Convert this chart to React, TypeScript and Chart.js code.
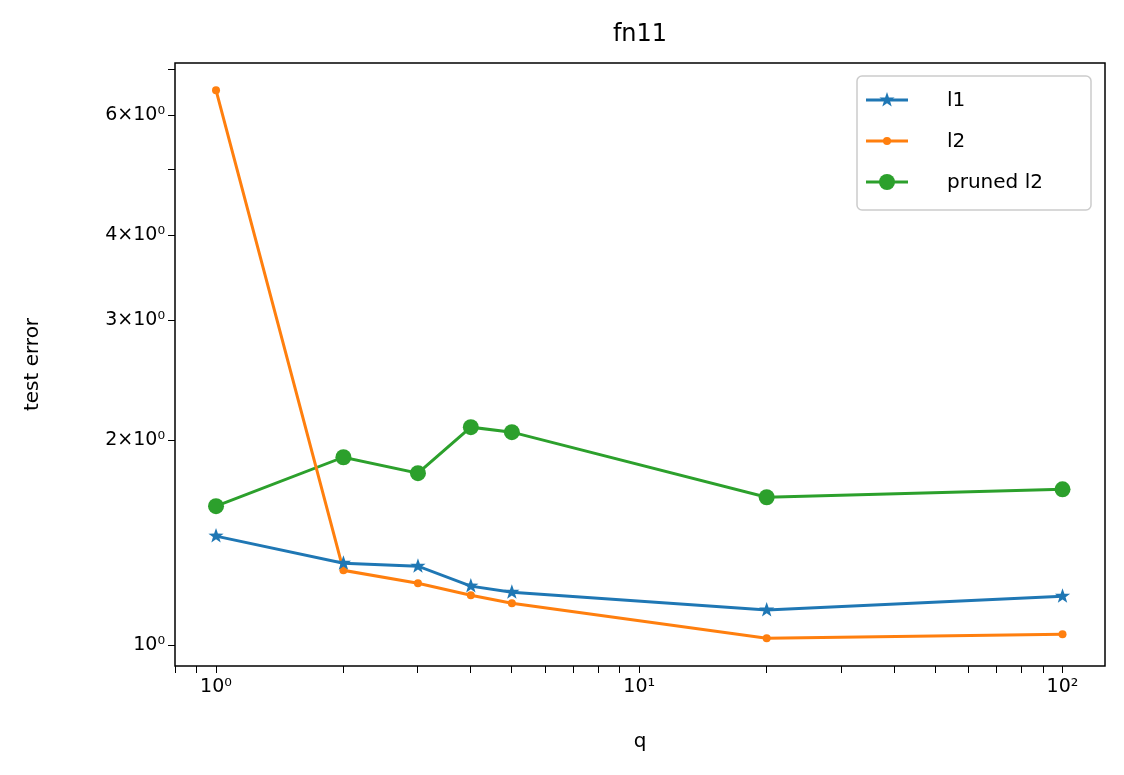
import { useEffect, useRef } from "react";
import { Chart, registerables } from "chart.js";
Chart.register(...registerables);

const qValues = [1, 2, 3, 4, 5, 20, 100];
const l1 = [1.446, 1.319, 1.306, 1.221, 1.196, 1.126, 1.18];
const l2 = [6.53, 1.288, 1.233, 1.184, 1.152, 1.024, 1.038];
const prunedL2 = [1.6, 1.888, 1.789, 2.09, 2.055, 1.649, 1.694];
const xLabels: Record<number, string> = { 1: "10⁰", 10: "10¹", 100: "10²" };
const yLabels: Record<number, string> = { 1: "10⁰", 2: "2×10⁰", 3: "3×10⁰", 4: "4×10⁰", 6: "6×10⁰" };
const xTicks = [0.8, 0.9, 1, 2, 3, 4, 5, 6, 7, 8, 9, 10, 20, 30, 40, 50, 60, 70, 80, 90, 100];
const yTicks = [1, 2, 3, 4, 5, 6, 7];

const FONT = "'DejaVu Sans', sans-serif";
const series = [
  { label: "l1", data: l1, color: "#1f77b4", style: "star", r: 7 },
  { label: "l2", data: l2, color: "#ff7f0e", style: "circle", r: 4 },
  { label: "pruned l2", data: prunedL2, color: "#2ca02c", style: "circle", r: 8 },
];

function drawStar(ctx: CanvasRenderingContext2D, x: number, y: number, r: number) {
  ctx.beginPath();
  for (let k = 0; k < 10; k++) {
    const ang = -Math.PI / 2 + (k * Math.PI) / 5;
    const rr = k % 2 === 0 ? r : r * 0.4;
    ctx.lineTo(x + rr * Math.cos(ang), y + rr * Math.sin(ang));
  }
  ctx.closePath();
  ctx.fill();
}

const deco = {
  id: "deco",
  afterDraw(chart: any) {
    const { ctx, chartArea: a } = chart;
    ctx.save();
    ctx.strokeStyle = "#000";
    ctx.lineWidth = 1.5;
    ctx.strokeRect(a.left, a.top, a.right - a.left, a.bottom - a.top);
    ctx.fillStyle = "#000";
    ctx.textAlign = "center";
    ctx.textBaseline = "middle";
    ctx.font = `24px ${FONT}`;
    ctx.fillText("fn11", (a.left + a.right) / 2, 35);
    ctx.font = `20px ${FONT}`;
    ctx.fillText("q", (a.left + a.right) / 2, 742);
    ctx.translate(33, (a.top + a.bottom) / 2);
    ctx.rotate(-Math.PI / 2);
    ctx.fillText("test error", 0, 0);
    ctx.restore();
    // legend
    ctx.save();
    const bx = 857, by = 76, bw = 234, bh = 134;
    ctx.fillStyle = "rgba(255,255,255,0.8)";
    ctx.strokeStyle = "#ccc";
    ctx.lineWidth = 1.5;
    ctx.beginPath();
    ctx.roundRect(bx, by, bw, bh, 5);
    ctx.fill();
    ctx.stroke();
    ctx.font = `20px ${FONT}`;
    ctx.textBaseline = "middle";
    series.forEach((s, i) => {
      const y = by + 24 + i * 41;
      ctx.strokeStyle = s.color;
      ctx.lineWidth = 3;
      ctx.beginPath();
      ctx.moveTo(bx + 9, y);
      ctx.lineTo(bx + 51, y);
      ctx.stroke();
      ctx.fillStyle = s.color;
      if (s.style === "star") {
        drawStar(ctx, bx + 30, y, 8);
      } else {
        ctx.beginPath();
        ctx.arc(bx + 30, y, s.r, 0, Math.PI * 2);
        ctx.fill();
      }
      ctx.fillStyle = "#000";
      ctx.textAlign = "left";
      ctx.fillText(s.label, bx + 90, y + 1);
    });
    ctx.restore();
  },
};

const starPlugin = {
  id: "stars",
  afterDatasetsDraw(chart: any) {
    const meta = chart.getDatasetMeta(0);
    const ctx = chart.ctx;
    ctx.save();
    ctx.fillStyle = "#1f77b4";
    meta.data.forEach((p: any) => drawStar(ctx, p.x, p.y, 8));
    ctx.restore();
  },
};

export default function App() {
  const ref = useRef<HTMLCanvasElement | null>(null);
  useEffect(() => {
    document.body.style.margin = "0";
    if (!ref.current) return;
    const chart = new Chart(ref.current, {
      type: "line",
      data: {
        datasets: series.map((s) => ({
          label: s.label,
          data: qValues.map((q, i) => ({ x: q, y: s.data[i] })),
          borderColor: s.color,
          backgroundColor: s.color,
          borderWidth: 3,
          pointRadius: s.style === "star" ? 0 : s.r,
          pointBorderWidth: 0,
          tension: 0,
        })),
      },
      options: {
        animation: false,
        responsive: false,
        layout: { padding: { top: 63, right: 19, left: 0, bottom: 0 } },
        plugins: { legend: { display: false }, tooltip: { enabled: false } },
        scales: {
          x: {
            type: "logarithmic",
            min: 0.8,
            max: 126,
            afterBuildTicks: (s: any) => { s.ticks = xTicks.map((value) => ({ value })); },
            grid: { display: true, drawOnChartArea: false, drawTicks: true, tickLength: 7, color: "#000" },
            border: { display: false },
            ticks: {
              color: "#000",
              font: { family: FONT, size: 19 },
              autoSkip: false,
              maxRotation: 0,
              callback: (v: any) => xLabels[Number(v)] ?? "",
            },
            afterFit: (s: any) => { s.height = 109; },
          },
          y: {
            type: "logarithmic",
            min: 0.932,
            max: 7.16,
            afterBuildTicks: (s: any) => { s.ticks = yTicks.map((value) => ({ value })); },
            grid: { display: true, drawOnChartArea: false, drawTicks: true, tickLength: 7, color: "#000" },
            border: { display: false },
            ticks: {
              color: "#000",
              font: { family: FONT, size: 19 },
              autoSkip: false,
              callback: (v: any) => yLabels[Number(v)] ?? "",
            },
            afterFit: (s: any) => { s.width = 175; },
          },
        },
      },
      plugins: [starPlugin, deco],
    });
    return () => chart.destroy();
  }, []);
  return <canvas ref={ref} width={1124} height={775} style={{ display: "block" }} />;
}
